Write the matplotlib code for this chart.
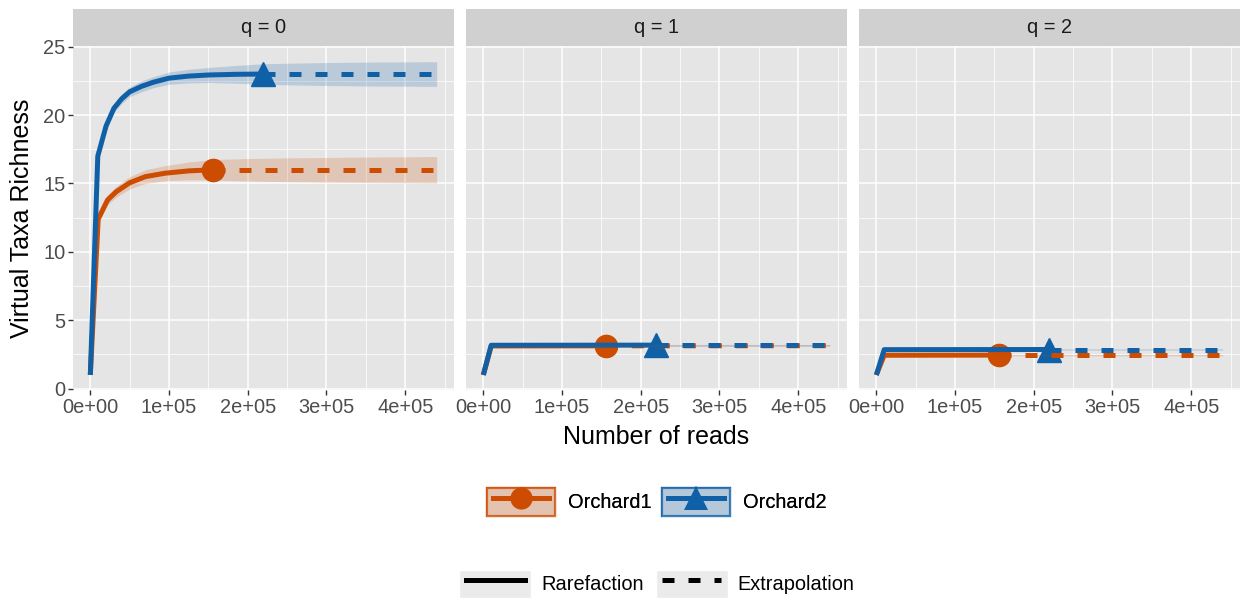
import numpy as np
import matplotlib.pyplot as plt
from matplotlib.lines import Line2D
from matplotlib.patches import Patch
from matplotlib.legend_handler import HandlerTuple, HandlerLine2D

plt.rcParams["font.family"] = ["Liberation Sans", "DejaVu Sans"]

# ---- data ----
sites = ["Orchard1", "Orchard2"]
colors = {"Orchard1": "#CC4C02", "Orchard2": "#1060A8"}
orders = ["q = 0", "q = 1", "q = 2"]

# rarefaction knots (number of reads) and extrapolation knots
rare_x = {
    "Orchard1": [1, 10000, 22000, 33000, 50000, 70000, 95000, 125000, 155600],
    "Orchard2": [1, 9500, 20000, 30000, 40000, 50000, 65000, 80000, 100000,
                 125000, 150000, 185000, 219000],
}
extra_x = {
    "Orchard1": [155600, 200000, 250000, 300000, 350000, 400000, 440000],
    "Orchard2": [219000, 260000, 300000, 350000, 400000, 440000],
}

# q = 0
rare_y0 = {
    "Orchard1": [1, 12.4, 13.8, 14.4, 15.05, 15.5, 15.75, 15.92, 16.0],
    "Orchard2": [1, 17.0, 19.2, 20.5, 21.2, 21.7, 22.1, 22.4, 22.7, 22.85, 22.93, 22.98, 23.0],
}
rare_ci0 = {
    "Orchard1": [0, 0.3, 0.35, 0.4, 0.45, 0.5, 0.55, 0.65, 0.75],
    "Orchard2": [0, 0.3, 0.3, 0.3, 0.35, 0.35, 0.4, 0.4, 0.45, 0.5, 0.55, 0.65, 0.75],
}
extra_y0 = {
    "Orchard1": [16.0, 16.0, 16.0, 16.0, 16.0, 16.0, 16.0],
    "Orchard2": [23.0, 23.0, 23.0, 23.0, 23.0, 23.0],
}
extra_ci0 = {
    "Orchard1": [0.75, 0.82, 0.87, 0.9, 0.93, 0.95, 0.97],
    "Orchard2": [0.75, 0.8, 0.84, 0.87, 0.89, 0.9],
}

# q = 1 and q = 2 (flat curves after first knot)
rare_y1 = {"Orchard1": [1, 3.12, 3.13], "Orchard2": [1, 3.17, 3.18]}
extra_y1 = {"Orchard1": [3.13, 3.14], "Orchard2": [3.18, 3.18]}
rare_y2 = {"Orchard1": [1, 2.44, 2.45], "Orchard2": [1, 2.85, 2.86]}
extra_y2 = {"Orchard1": [2.45, 2.45], "Orchard2": [2.86, 2.86]}
flat_rare_x = {"Orchard1": [1, 10000, 155600], "Orchard2": [1, 10000, 219000]}
flat_extra_x = {"Orchard1": [155600, 440000], "Orchard2": [219000, 440000]}
flat_ci = 0.05

x_ticks = [0, 100000, 200000, 300000, 400000]
x_labels = ["0e+00", "1e+05", "2e+05", "3e+05", "4e+05"]
y_ticks = [0, 5, 10, 15, 20, 25]

# ---- layout ----
W, H = 1241, 599
fig = plt.figure(figsize=(W / 100, H / 100), dpi=100)
panel_left = [73, 466, 859]
panel_w = 381
p_top, p_bot = 46, 390
strip_top = 9

marker = {"Orchard1": "o", "Orchard2": "^"}
msize = {"Orchard1": 16, "Orchard2": 17}
lw = 3.6
dash = (2.4, 2.8)


def panel_data(k, s):
    if k == 0:
        rx, ry = rare_x[s], rare_y0[s]
        ex, ey = extra_x[s], extra_y0[s]
        rc, ec = rare_ci0[s], extra_ci0[s]
    else:
        rx, ex = flat_rare_x[s], flat_extra_x[s]
        ry = (rare_y1 if k == 1 else rare_y2)[s]
        ey = (extra_y1 if k == 1 else extra_y2)[s]
        rc = [flat_ci] * len(rx)
        ec = [flat_ci] * len(ex)
    return rx, ry, rc, ex, ey, ec


for k in range(3):
    ax = fig.add_axes([panel_left[k] / W, 1 - p_bot / H, panel_w / W, (p_bot - p_top) / H])
    ax.set_facecolor("#E5E5E5")
    for sp in ax.spines.values():
        sp.set_visible(False)
    ax.set_xlim(-22000, 462000)
    ax.set_ylim(-0.1, 25.05)
    ax.set_xticks(x_ticks)
    ax.set_xticklabels(x_labels)
    ax.set_yticks(y_ticks)
    ax.set_xticks([50000, 150000, 250000, 350000, 450000], minor=True)
    ax.set_yticks([2.5, 7.5, 12.5, 17.5, 22.5], minor=True)
    ax.grid(which="major", color="white", linewidth=1.1)
    ax.grid(which="minor", color="white", linewidth=0.55)
    ax.set_axisbelow(True)
    ax.tick_params(which="major", length=3.5, width=1, color="#333333",
                   labelsize=14.4, labelcolor="#4D4D4D", pad=2)
    ax.tick_params(which="minor", length=0)
    if k > 0:
        ax.tick_params(axis="y", labelleft=False, length=0)

    # points first, then lines, then ribbons (ggplot layer order)
    for s in sites:
        rx, ry, rc, ex, ey, ec = panel_data(k, s)
        ax.plot([rx[-1]], [ry[-1]], marker=marker[s], markersize=msize[s],
                color=colors[s], linestyle="none", zorder=3)
    for s in sites:
        rx, ry, rc, ex, ey, ec = panel_data(k, s)
        ax.plot(rx, ry, color=colors[s], linewidth=lw, solid_capstyle="butt",
                solid_joinstyle="round", zorder=4)
        ax.plot(ex, ey, color=colors[s], linewidth=lw, linestyle=(0, dash), zorder=4)
    for s in sites:
        rx, ry, rc, ex, ey, ec = panel_data(k, s)
        xs = np.array(rx + ex[1:])
        ys = np.array(ry + ey[1:])
        cs = np.array(rc + ec[1:])
        ax.fill_between(xs, ys - cs, ys + cs, color=colors[s], alpha=0.2,
                        linewidth=0, zorder=5)

    # facet strip
    sax = fig.add_axes([panel_left[k] / W, 1 - p_top / H, panel_w / W, (p_top - strip_top) / H])
    sax.set_facecolor("#D0D0D0")
    sax.set_xticks([])
    sax.set_yticks([])
    for sp in sax.spines.values():
        sp.set_visible(False)
    sax.text(0.5, 0.5, orders[k], ha="center", va="center", fontsize=14.4,
             color="#1A1A1A", transform=sax.transAxes)

fig.text(22 / W, 1 - 218 / H, "Virtual Taxa Richness", rotation=90,
         ha="center", va="center", fontsize=18)
fig.text(656 / W, 1 - 437 / H, "Number of reads", ha="center", va="center", fontsize=18)


# ---- legends ----
class InsetLine(HandlerLine2D):
    # keep the key line a little inside the key box, like ggplot
    def get_xdata(self, legend, xdescent, ydescent, width, height, fontsize):
        pad = 0.09 * width
        return ([-xdescent + pad, -xdescent + width - pad],
                [-xdescent + 0.5 * width])


key_grey = "#EBEBEB"
hmap = {tuple: HandlerTuple(ndivide=1, pad=0), Line2D: InsetLine()}
site_handles = []
for s in sites:
    bg = Patch(facecolor=key_grey, edgecolor="white")
    band = Patch(facecolor=colors[s], alpha=0.25, edgecolor="none")
    edge = Patch(facecolor="none", edgecolor=colors[s], linewidth=1.6, alpha=0.8)
    ln = Line2D([], [], color=colors[s], linewidth=lw, marker=marker[s],
                markersize=msize[s], markeredgewidth=0)
    site_handles.append((bg, band, edge, ln))
leg1 = fig.legend(site_handles, sites, loc="center", bbox_to_anchor=(657 / W, 1 - 502 / H),
                  ncol=2, frameon=False, fontsize=14.4, handlelength=3.4, handleheight=1.75,
                  handletextpad=0.65, columnspacing=0.5, numpoints=1,
                  handler_map=hmap)
fig.add_artist(leg1)

lty_labels = ["Rarefaction", "Extrapolation"]
lty_handles = []
for ls in ["-", (0, dash)]:
    bg = Patch(facecolor=key_grey, edgecolor="white")
    ln = Line2D([], [], color="black", linewidth=lw, linestyle=ls)
    lty_handles.append((bg, ln))
fig.legend(lty_handles, lty_labels, loc="center", bbox_to_anchor=(657 / W, 1 - 584 / H),
           ncol=2, frameon=False, fontsize=14.4, handlelength=3.6, handleheight=1.85,
           handletextpad=0.5, columnspacing=0.6, numpoints=1, handler_map=hmap)

fig.savefig("out.png", dpi=100, facecolor="white")
